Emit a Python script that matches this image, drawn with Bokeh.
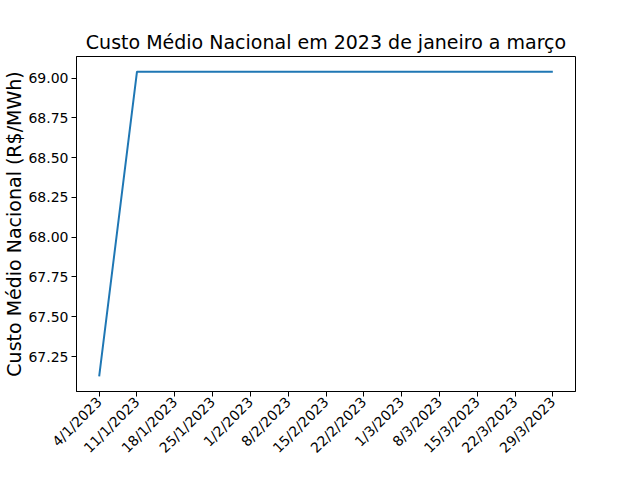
from bokeh.plotting import figure
from bokeh.models import Range1d, FixedTicker, NumeralTickFormatter
from bokeh.embed import file_html
from bokeh.resources import INLINE
import math

dates = ["4/1/2023", "11/1/2023", "18/1/2023", "25/1/2023",
         "1/2/2023", "8/2/2023", "15/2/2023", "22/2/2023",
         "1/3/2023", "8/3/2023", "15/3/2023", "22/3/2023", "29/3/2023"]
custo = [67.126, 69.04, 69.04, 69.04, 69.04, 69.04, 69.04,
         69.04, 69.04, 69.04, 69.04, 69.04, 69.04]
y_ticks = [67.25, 67.50, 67.75, 68.00, 68.25, 68.50, 68.75, 69.00]

xs = list(range(len(dates)))
ymin, ymax = min(custo), max(custo)
pad = (ymax - ymin) * 0.05
xpad = (len(dates) - 1) * 0.05

FONT = "DejaVu Sans"

p = figure(width=624, height=464, output_backend="svg", toolbar_location=None,
           x_range=Range1d(-xpad, len(dates) - 1 + xpad),
           y_range=Range1d(ymin - pad, ymax + pad),
           title="Custo Médio Nacional em 2023 de janeiro a março",
           min_border_left=72, min_border_right=49, min_border_top=56,
           min_border_bottom=10)

p.line(xs, custo, line_color="#1f77b4", line_width=2)

p.title.align = "center"
p.title.text_font = FONT
p.title.text_font_size = "19px"
p.title.text_font_style = "normal"
p.title.text_color = "black"
p.title.standoff = 8

p.xgrid.visible = False
p.ygrid.visible = False
p.outline_line_color = "black"
p.outline_line_width = 1
p.background_fill_color = "white"
p.border_fill_color = "white"

p.xaxis.ticker = FixedTicker(ticks=xs)
p.xaxis.major_label_overrides = {i: d for i, d in enumerate(dates)}
p.xaxis.major_label_orientation = math.pi / 4
p.yaxis.ticker = FixedTicker(ticks=y_ticks)
p.yaxis.formatter = NumeralTickFormatter(format="0.00")
p.yaxis.axis_label = "Custo Médio Nacional (R$/MWh)"

for ax in (p.xaxis, p.yaxis):
    ax.minor_tick_line_color = None
    ax.major_tick_out = 5
    ax.major_tick_in = 0
    ax.major_tick_line_color = "black"
    ax.axis_line_color = "black"
    ax.major_label_text_font = FONT
    ax.major_label_text_font_size = "14px"
    ax.major_label_text_color = "black"
    ax.major_label_standoff = 3
    ax.axis_label_text_font = FONT
    ax.axis_label_text_font_size = "19px"
    ax.axis_label_text_font_style = "normal"
    ax.axis_label_text_color = "black"
    ax.axis_label_standoff = 0

open("out.html", "w").write(file_html(p, INLINE))
